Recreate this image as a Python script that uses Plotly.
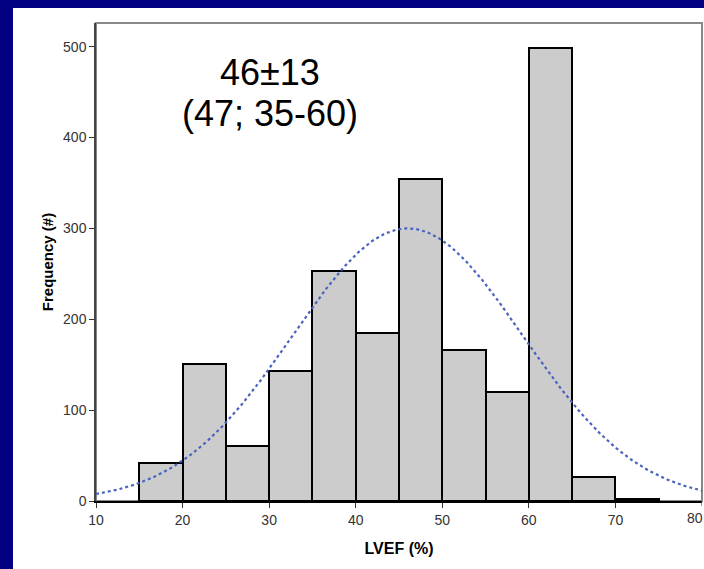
import numpy as np
import plotly.graph_objects as go

bin_left = [15, 20, 25, 30, 35, 40, 45, 50, 55, 60, 65, 70]
counts = [42, 151, 60, 143, 253, 185, 354, 166, 120, 498, 26, 2]
bin_width = 5
mean_val = 46
sd_val = 13.3
x_ticks = [10, 20, 30, 40, 50, 60, 70]
y_ticks = [0, 100, 200, 300, 400, 500]
annot_lines = ["46±13", "(47; 35-60)"]

centers = [b + bin_width / 2 for b in bin_left]
n_total = sum(counts)
xs = np.linspace(10, 80, 300)
ys = n_total * bin_width / (sd_val * np.sqrt(2 * np.pi)) * np.exp(-0.5 * ((xs - mean_val) / sd_val) ** 2)

fig = go.Figure()
fig.add_trace(go.Bar(x=centers, y=counts, width=bin_width,
                     marker=dict(color="#CCCCCC", line=dict(color="black", width=2)),
                     hoverinfo="skip"))
fig.add_trace(go.Scatter(x=xs, y=ys, mode="lines",
                         line=dict(color="#4A64BE", width=2.2, dash="dot"),
                         hoverinfo="skip"))

W, H = 704, 569
L, R, T, B = 96, 2, 23, 68
pw, ph = W - L - R, H - T - B

def px(x):
    return (x - L) / pw

def py(y):
    return (H - B - y) / ph

shapes = [
    dict(type="rect", xref="paper", yref="paper", x0=px(13), x1=px(706), y0=py(571), y1=py(8),
         fillcolor="white", line=dict(width=0), layer="below"),
    dict(type="rect", xref="paper", yref="paper", x0=0, x1=1, y0=0, y1=1,
         line=dict(color="#888888", width=2), layer="below"),
    dict(type="line", xref="x", yref="paper", x0=80, x1=80, y0=0, y1=-5 / ph,
         line=dict(color="#333", width=1)),
]

fig.update_layout(
    width=W, height=H,
    margin=dict(l=L, r=R, t=T, b=B),
    paper_bgcolor="#000080",
    plot_bgcolor="white",
    showlegend=False,
    bargap=0,
    shapes=shapes,
    font=dict(family="Arial, Liberation Sans, sans-serif"),
    xaxis=dict(range=[10, 80], tickvals=x_ticks, ticks="outside", ticklen=5, tickcolor="#333",
               showline=True, linecolor="black", linewidth=2, showgrid=False, zeroline=False,
               tickfont=dict(size=14, color="#333"),
               title=dict(text="<b>LVEF (%)</b>", font=dict(size=16, color="black"), standoff=16)),
    yaxis=dict(range=[0, 526], tickvals=y_ticks, ticks="outside", ticklen=5, tickcolor="#333",
               showline=True, linecolor="#444", linewidth=1.5, showgrid=False, zeroline=False,
               tickfont=dict(size=14, color="#333"),
               title=dict(text="<b>Frequency (#)</b>", font=dict(size=15, color="black"), standoff=6)),
    annotations=[
        dict(x=px(270), y=py(72), xref="paper", yref="paper", text=annot_lines[0], showarrow=False,
             xanchor="center", yanchor="middle", font=dict(size=36, color="black")),
        dict(x=px(270), y=py(113), xref="paper", yref="paper", text=annot_lines[1], showarrow=False,
             xanchor="center", yanchor="middle", font=dict(size=36, color="black")),
        dict(x=80, y=0, xref="x", yref="y", text="80", showarrow=False, xanchor="right",
             yanchor="top", xshift=3, yshift=-7, font=dict(size=14, color="#333")),
    ],
)

fig.write_html("out.html")
